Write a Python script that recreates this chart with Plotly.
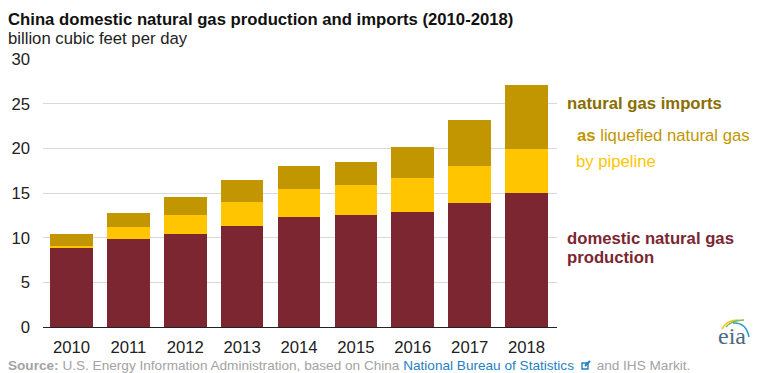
import plotly.graph_objects as go

years = ["2010", "2011", "2012", "2013", "2014", "2015", "2016", "2017", "2018"]
production = [8.8, 9.8, 10.4, 11.3, 12.3, 12.5, 12.9, 13.9, 15.0]
pipeline = [0.3, 1.4, 2.1, 2.7, 3.1, 3.4, 3.8, 4.1, 4.9]
lng = [1.3, 1.6, 2.0, 2.5, 2.6, 2.6, 3.4, 5.2, 7.15]

FONT = "Liberation Sans, Arial, sans-serif"
W, H = 765, 373
L, R, T, B = 43, 557, 59, 327


def px(x):
    return (x - L) / (R - L)


def py(y):
    return (B - y) / (B - T)


fig = go.Figure()
for name, vals, col in [
    ("domestic natural gas production", production, "#7b2631"),
    ("by pipeline", pipeline, "#ffc600"),
    ("as liquefied natural gas", lng, "#c29600"),
]:
    fig.add_trace(go.Bar(x=years, y=vals, name=name, marker=dict(color=col, line_width=0)))

ann = []


def text(x, y, s, size, color, anchor="left", family=FONT):
    ann.append(dict(x=px(x), y=py(y), xref="paper", yref="paper", text=s, showarrow=False,
                    xanchor=anchor, yanchor="middle", align="left", borderpad=0, xshift=-1,
                    font=dict(family=family, size=size, color=color)))


text(8, 19, "<b>China domestic natural gas production and imports (2010-2018)</b>", 16.7, "#111111")
text(8, 38.5, "billion cubic feet per day", 16.7, "#222222")
text(567, 103, "<b>natural gas imports</b>", 16.7, "#8a6d00")
text(577, 135, "<b>as</b> liquefied natural gas", 16.7, "#c29600")
text(576, 161, "by pipeline", 16.7, "#ffc600")
text(567, 238, "<b>domestic natural gas</b>", 16.7, "#7b2631")
text(567, 257, "<b>production</b>", 16.7, "#7b2631")
text(8, 365, "<b>Source:</b> U.S. Energy Information Administration, based on China "
     "<span style='color:#1f7fc4'>National Bureau of Statistics</span>"
     "<span style='color:#ffffff'>___</span>and IHS Markit.", 13.6, "#a3a3a3")
text(733, 336, "eia", 24, "#4d6a7d", "center", "Liberation Serif, serif")

shapes = [
    # external-link icon
    dict(type="rect", xref="paper", yref="paper", x0=px(582), x1=px(588), y0=py(363), y1=py(369),
         line=dict(color="#1f7fc4", width=1.4), fillcolor="rgba(0,0,0,0)"),
    dict(type="line", xref="paper", yref="paper", x0=px(585), x1=px(590), y0=py(366), y1=py(361),
         line=dict(color="#1f7fc4", width=2)),
    # logo arcs
    dict(type="path", xref="paper", yref="paper",
         path=f"M {px(722)} {py(329)} Q {px(727)} {py(320)} {px(738)} {py(320)}",
         line=dict(color="#f2c624", width=1.6)),
    dict(type="path", xref="paper", yref="paper",
         path=f"M {px(726)} {py(327)} Q {px(732)} {py(320)} {px(744)} {py(320)}",
         line=dict(color="#7dbb5a", width=1.6)),
    dict(type="path", xref="paper", yref="paper",
         path=f"M {px(733)} {py(323)} Q {px(746)} {py(322)} {px(749)} {py(337)}",
         line=dict(color="#2f9fc9", width=1.6)),
]

fig.update_layout(
    width=W, height=H, autosize=False, barmode="stack", bargap=0.25, showlegend=False,
    margin=dict(l=L, r=W - R, t=T, b=H - B, pad=0), plot_bgcolor="white", paper_bgcolor="white",
    font=dict(family=FONT, size=16.7, color="#222222"),
    annotations=ann, shapes=shapes,
    xaxis=dict(ticks="", showline=True, linecolor="#222222", linewidth=1, showgrid=False,
               range=[-0.5, 8.535],
               tickfont=dict(size=16.7, color="#222222"), fixedrange=True, ticklabelstandoff=5),
    yaxis=dict(range=[0, 30], tick0=0, dtick=5, showline=False, zeroline=False, gridcolor="#d9d9d9",
               gridwidth=1, ticks="", tickfont=dict(size=16.7, color="#222222"), fixedrange=True,
               ticklabelstandoff=12),
)
fig.write_html("out.html", config={"displayModeBar": False},
               post_script="document.body.style.margin='0';")
